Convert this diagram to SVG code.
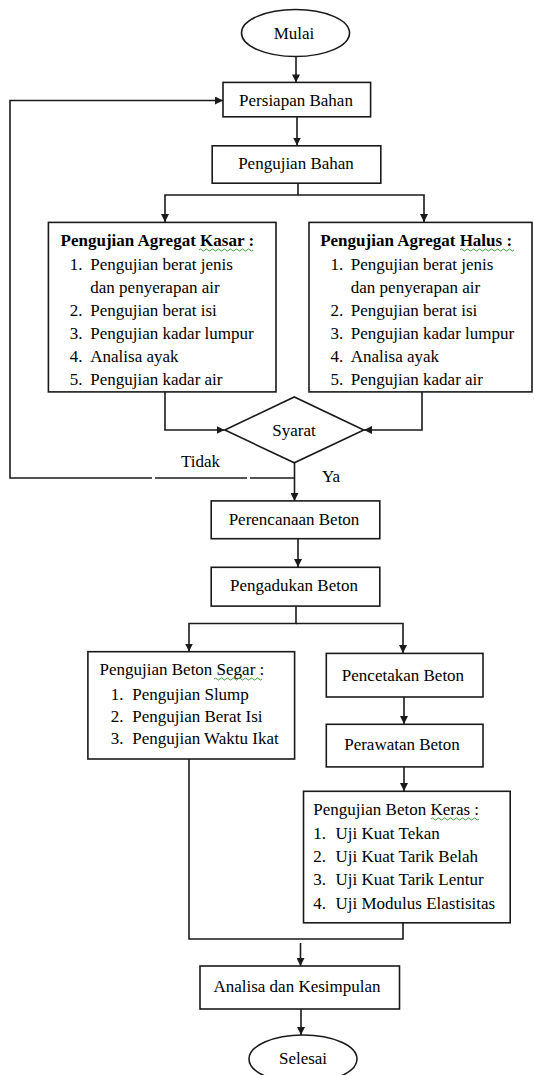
<svg xmlns="http://www.w3.org/2000/svg" width="534" height="1075" viewBox="0 0 534 1075">
<style>
.bx{fill:#fff;stroke:#1a1a1a;stroke-width:1.6}
.ln{fill:none;stroke:#1a1a1a;stroke-width:1.6}
.c{text-anchor:middle}
.b{font-weight:bold}
.sq{fill:none;stroke:#3c9c3c;stroke-width:1}
</style>
<defs>
<marker id="ah" viewBox="0 0 10 10" refX="10" refY="5" markerWidth="8" markerHeight="8" markerUnits="userSpaceOnUse" orient="auto">
<path d="M0,0 L10,5 L0,10 z" fill="#1a1a1a"/>
</marker>
</defs>
<rect width="534" height="1075" fill="#fff"/>
<g id="connectors">
<path class="ln" d="M296,57 V82.4" marker-end="url(#ah)"/>
<path class="ln" d="M297,117 V145.5" marker-end="url(#ah)"/>
<path class="ln" d="M298,183 V195 H165 V222" marker-end="url(#ah)"/>
<path class="ln" d="M298,195 H424 V222" marker-end="url(#ah)"/>
<path class="ln" d="M165,392 V430 H224.5" marker-end="url(#ah)"/>
<path class="ln" d="M422,392 V430 H364" marker-end="url(#ah)"/>
<path class="ln" d="M294.5,463 V501" marker-end="url(#ah)"/>
<path class="ln" d="M294.5,478 H250"/>
<path class="ln" d="M247,478 H155"/>
<path class="ln" d="M152,478 H10 V100.5 H223" marker-end="url(#ah)"/>
<path class="ln" d="M298,539 V567" marker-end="url(#ah)"/>
<path class="ln" d="M296,606 V623.5 H189 V651.5" marker-end="url(#ah)"/>
<path class="ln" d="M296,623.5 H403 V653" marker-end="url(#ah)"/>
<path class="ln" d="M404,697 V724" marker-end="url(#ah)"/>
<path class="ln" d="M404,767 V791" marker-end="url(#ah)"/>
<path class="ln" d="M189,759 V939 H403 V923"/>
<path class="ln" d="M300.5,943 V966" marker-end="url(#ah)"/>
<path class="ln" d="M301,1009 V1035" marker-end="url(#ah)"/>
</g>
<g id="mulai">
<ellipse class="bx" cx="295.5" cy="33" rx="54" ry="23.5"/>
<text font-family="Liberation Serif" font-size="17" class="c" x="294" y="39">Mulai</text>
</g>
<g id="persiapan">
<rect class="bx" x="223" y="82.4" width="147.6" height="34.4"/>
<text font-family="Liberation Serif" font-size="17" class="c" x="296" y="106">Persiapan Bahan</text>
</g>
<g id="pengujian-bahan">
<rect class="bx" x="212.2" y="145.8" width="168.6" height="37.4"/>
<text font-family="Liberation Serif" font-size="17" class="c" x="296" y="169">Pengujian Bahan</text>
</g>
<g id="agregat-kasar">
<rect class="bx" x="48.4" y="222.4" width="227.6" height="169.5"/>
<text font-family="Liberation Serif" font-size="17" font-weight="bold" x="60.6" y="246">Pengujian Agregat Kasar :</text>
<path class="sq" d="M199,250 q1.5,-2 3,0 t3,0 t3,0 t3,0 t3,0 t3,0 t3,0 t3,0 t3,0 t3,0 t3,0 t3,0 t3,0 t3,0 t3,0 t3,0 t3,0 t3,0"/>
<text font-family="Liberation Serif" font-size="17" x="69.8" y="269.5">1.</text><text font-family="Liberation Serif" font-size="17" x="90.3" y="269.5">Pengujian berat jenis</text>
<text font-family="Liberation Serif" font-size="17" x="90.3" y="292.5">dan penyerapan air</text>
<text font-family="Liberation Serif" font-size="17" x="69.8" y="315.5">2.</text><text font-family="Liberation Serif" font-size="17" x="90.3" y="315.5">Pengujian berat isi</text>
<text font-family="Liberation Serif" font-size="17" x="69.8" y="338.5">3.</text><text font-family="Liberation Serif" font-size="17" x="90.3" y="338.5">Pengujian kadar lumpur</text>
<text font-family="Liberation Serif" font-size="17" x="69.8" y="361.5">4.</text><text font-family="Liberation Serif" font-size="17" x="90.3" y="361.5">Analisa ayak</text>
<text font-family="Liberation Serif" font-size="17" x="69.8" y="384.5">5.</text><text font-family="Liberation Serif" font-size="17" x="90.3" y="384.5">Pengujian kadar air</text>
</g>
<g id="agregat-halus">
<rect class="bx" x="309" y="222.4" width="223" height="169.5"/>
<text font-family="Liberation Serif" font-size="17" font-weight="bold" x="320.2" y="246">Pengujian Agregat Halus :</text>
<path class="sq" d="M460,250 q1.5,-2 3,0 t3,0 t3,0 t3,0 t3,0 t3,0 t3,0 t3,0 t3,0 t3,0 t3,0 t3,0 t3,0 t3,0 t3,0 t3,0 t3,0 t3,0"/>
<text font-family="Liberation Serif" font-size="17" x="330.4" y="269.5">1.</text><text font-family="Liberation Serif" font-size="17" x="350.8" y="269.5">Pengujian berat jenis</text>
<text font-family="Liberation Serif" font-size="17" x="350.8" y="292.5">dan penyerapan air</text>
<text font-family="Liberation Serif" font-size="17" x="330.4" y="315.5">2.</text><text font-family="Liberation Serif" font-size="17" x="350.8" y="315.5">Pengujian berat isi</text>
<text font-family="Liberation Serif" font-size="17" x="330.4" y="338.5">3.</text><text font-family="Liberation Serif" font-size="17" x="350.8" y="338.5">Pengujian kadar lumpur</text>
<text font-family="Liberation Serif" font-size="17" x="330.4" y="361.5">4.</text><text font-family="Liberation Serif" font-size="17" x="350.8" y="361.5">Analisa ayak</text>
<text font-family="Liberation Serif" font-size="17" x="330.4" y="384.5">5.</text><text font-family="Liberation Serif" font-size="17" x="350.8" y="384.5">Pengujian kadar air</text>
</g>
<g id="syarat">
<polygon class="bx" points="224.8,430 294.3,397 363.8,430 294.3,462.8"/>
<text font-family="Liberation Serif" font-size="17" class="c" x="294" y="436">Syarat</text>
</g>
<g id="label-tidak"><text font-family="Liberation Serif" font-size="17" x="181" y="467">Tidak</text></g>
<g id="label-ya"><text font-family="Liberation Serif" font-size="17" x="322" y="482">Ya</text></g>
<g id="perencanaan">
<rect class="bx" x="211.2" y="500.9" width="168.6" height="37.8"/>
<text font-family="Liberation Serif" font-size="17" class="c" x="294" y="524.5">Perencanaan Beton</text>
</g>
<g id="pengadukan">
<rect class="bx" x="211.2" y="567.3" width="168.6" height="38.8"/>
<text font-family="Liberation Serif" font-size="17" class="c" x="294" y="591">Pengadukan Beton</text>
</g>
<g id="beton-segar">
<rect class="bx" x="87.9" y="651.7" width="206.7" height="107.3"/>
<text font-family="Liberation Serif" font-size="17" x="99.5" y="674.5">Pengujian Beton Segar :</text>
<path class="sq" d="M214,679 q1.5,-2 3,0 t3,0 t3,0 t3,0 t3,0 t3,0 t3,0 t3,0 t3,0 t3,0 t3,0 t3,0 t3,0 t3,0 t3,0 t3,0"/>
<text font-family="Liberation Serif" font-size="17" x="110.7" y="700">1.</text><text font-family="Liberation Serif" font-size="17" x="132.2" y="700">Pengujian Slump</text>
<text font-family="Liberation Serif" font-size="17" x="110.7" y="722">2.</text><text font-family="Liberation Serif" font-size="17" x="132.2" y="722">Pengujian Berat Isi</text>
<text font-family="Liberation Serif" font-size="17" x="110.7" y="744">3.</text><text font-family="Liberation Serif" font-size="17" x="132.2" y="744">Pengujian Waktu Ikat</text>
</g>
<g id="pencetakan">
<rect class="bx" x="326.3" y="653.4" width="156.7" height="43.6"/>
<text font-family="Liberation Serif" font-size="17" class="c" x="403" y="680.5">Pencetakan Beton</text>
</g>
<g id="perawatan">
<rect class="bx" x="326.3" y="724.3" width="156.7" height="42.6"/>
<text font-family="Liberation Serif" font-size="17" class="c" x="402" y="750">Perawatan Beton</text>
</g>
<g id="beton-keras">
<rect class="bx" x="303.5" y="791.3" width="206.7" height="131.5"/>
<text font-family="Liberation Serif" font-size="17" x="313.3" y="815">Pengujian Beton Keras :</text>
<path class="sq" d="M431,819 q1.5,-2 3,0 t3,0 t3,0 t3,0 t3,0 t3,0 t3,0 t3,0 t3,0 t3,0 t3,0 t3,0 t3,0 t3,0 t3,0 t3,0"/>
<text font-family="Liberation Serif" font-size="17" x="313.3" y="838.5">1.</text><text font-family="Liberation Serif" font-size="17" x="335.5" y="838.5">Uji Kuat Tekan</text>
<text font-family="Liberation Serif" font-size="17" x="313.3" y="862">2.</text><text font-family="Liberation Serif" font-size="17" x="335.5" y="862">Uji Kuat Tarik Belah</text>
<text font-family="Liberation Serif" font-size="17" x="313.3" y="885">3.</text><text font-family="Liberation Serif" font-size="17" x="335.5" y="885">Uji Kuat Tarik Lentur</text>
<text font-family="Liberation Serif" font-size="17" x="313.3" y="908.5">4.</text><text font-family="Liberation Serif" font-size="17" x="335.5" y="908.5">Uji Modulus Elastisitas</text>
</g>
<g id="analisa">
<rect class="bx" x="200" y="966" width="199.5" height="43"/>
<text font-family="Liberation Serif" font-size="17" class="c" x="297" y="991.5">Analisa dan Kesimpulan</text>
</g>
<g id="selesai">
<ellipse class="bx" cx="303" cy="1059" rx="54" ry="24"/>
<text font-family="Liberation Serif" font-size="17" class="c" x="303" y="1064">Selesai</text>
</g>
</svg>
